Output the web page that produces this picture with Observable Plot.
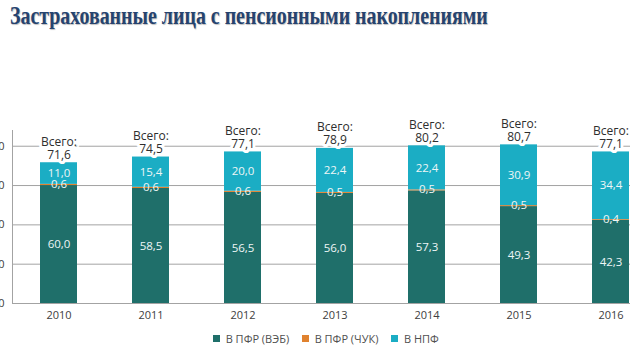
<!DOCTYPE html>
<html><head><meta charset="utf-8">
<script src="https://cdn.jsdelivr.net/npm/d3@7"></script>
<script src="https://cdn.jsdelivr.net/npm/@observablehq/plot@0.6"></script>
<style>
html,body{margin:0;padding:0;background:#fff;overflow:hidden;width:630px;height:355px;}
#title{font-family:"Liberation Serif",serif;font-weight:bold;font-size:25.5px;color:#26436f;margin:0 0 0 10px;height:40px;line-height:32px;text-shadow:1px 1px 1px rgba(0,0,0,0.25);white-space:nowrap;transform:scaleX(0.78);transform-origin:0 0;}
#chart svg{display:block;margin-left:-20px;max-width:none !important;width:680px;height:285px;}
#legend{display:flex;justify-content:center;padding-left:22px;margin-top:-3px;}
#legend span{margin-right:13px !important;}
#legend span:last-child{margin-right:0 !important;}
</style></head>
<body>
<div id="title">Застрахованные лица с пенсионными накоплениями</div>
<div id="chart"></div>
<div id="legend"></div>
<script>
const years = ["2010","2011","2012","2013","2014","2015","2016"];
const series = ["В ПФР (ВЭБ)", "В ПФР (ЧУК)", "В НПФ"];
const colors = ["#1f6f6a", "#e0822f", "#1badc4"];
const veb  = [60.0, 58.5, 56.5, 56.0, 57.3, 49.3, 42.3];
const chuk = [0.6, 0.6, 0.6, 0.5, 0.5, 0.5, 0.4];
const npf  = [11.0, 15.4, 20.0, 22.4, 22.4, 30.9, 34.4];
const totals = [71.6, 74.5, 77.1, 78.9, 80.2, 80.7, 77.1];
const yTicks = [0, 20, 40, 60, 80];

const fmt = v => v.toFixed(1).replace(".", ",");
const vals = [veb, chuk, npf];
const rows = [];
series.forEach((s, i) => years.forEach((y, j) => rows.push({year: y, series: s, value: vals[i][j]})));
const tot = years.map((y, j) => ({year: y, total: totals[j]}));
const font = "'Open Sans', sans-serif";

const plot = Plot.plot({
  width: 680, height: 285,
  marginLeft: 32, marginRight: 4, marginTop: 90, marginBottom: 22,
  style: {fontFamily: font, fontSize: "11px", color: "#404040", background: "#fff"},
  x: {domain: years, paddingInner: 0.6, paddingOuter: 0.3, label: null},
  y: {domain: [0, 88], label: null},
  color: {domain: series, range: colors},
  marks: [
    Plot.ruleY(yTicks, {stroke: "#a3a3a3", strokeWidth: 1}),
    Plot.axisY(yTicks, {tickSize: 0, tickPadding: 8, label: null, fill: "#404040", fontSize: 11}),
    Plot.frame({anchor: "left", stroke: "#a3a3a3"}),
    Plot.axisX({tickSize: 0, tickPadding: 8, label: null, fill: "#404040", fontSize: 11}),
    Plot.barY(rows, {x: "year", y: "value", fill: "series", order: series}),
    Plot.text(rows, Plot.stackY({x: "year", y: "value", z: "series", order: series, text: d => d.series === series[1] ? "" : fmt(d.value), fill: "#eef6f6", fontSize: 11.5})),
    Plot.text(rows, Plot.stackY({x: "year", y: "value", z: "series", order: series, text: d => d.series === series[1] ? fmt(d.value) : "", fill: "#eef6f6", fontSize: 11.5, dy: -1})),
    Plot.text(tot, {x: "year", y: "total", text: d => "Всего:\n" + fmt(d.total), lineAnchor: "bottom", dy: -4, lineHeight: 1.08, fill: "#2e2e2e", stroke: "#fff", strokeWidth: 6, fontSize: 12})
  ]
});
document.getElementById("chart").appendChild(plot);

const leg = Plot.legend({color: {type: "ordinal", domain: series, range: colors}, swatchSize: 7, style: {fontFamily: font, fontSize: "11px", color: "#505050"}});
document.getElementById("legend").appendChild(leg);
</script>
</body></html>
